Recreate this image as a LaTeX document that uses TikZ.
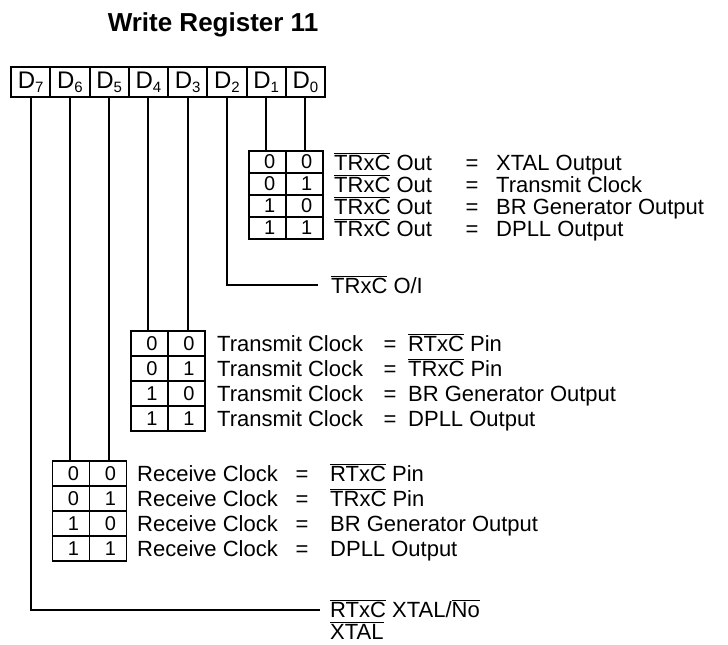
\documentclass[tikz,border=0pt]{standalone}
\usepackage{fontspec}
\setmainfont{Liberation Sans}
\newcommand{\invsig}[1]{$\overline{\mbox{#1}}$}
\newcommand{\dbit}[1]{D\raisebox{-0.3ex}{\fontsize{15}{15}\selectfont #1}}
\tikzset{
  regcell/.style={draw, line width=2pt, minimum width=39.25pt, minimum height=30pt, inner sep=0pt, font=\fontsize{24}{26}\selectfont},
  bitcell/.style={draw, line width=1.8pt, minimum width=37pt, inner sep=0pt, font=\fontsize{20}{22}\selectfont},
  wire/.style={line width=2pt},
  desc/.style={anchor=base west, inner sep=0pt, font=\fontsize{22}{24}\selectfont},
}
\begin{document}
\begin{tikzpicture}[x=1pt, y=-1pt]
  \useasboundingbox (0,0) rectangle (728,645);
  \node[font=\bfseries\fontsize{26}{28}\selectfont] (title) at (213,25) {Write Register 11};
  % register bits
  \foreach \b in {7,...,0}
    \node[regcell] (d\b) at ({11+(7.5-\b)*39.25},82) {\dbit{\b}};

  % D1 D0
  \foreach \hi/\lo [count=\i] in {0/0,0/1,1/0,1/1} {
    \node[bitcell, minimum height=22pt] (txa\i) at (267.25,{151+(\i-0.5)*22}) {\hspace{5pt}\hi};
    \node[bitcell, minimum height=22pt] (txb\i) at (304.25,{151+(\i-0.5)*22}) {\hspace{5pt}\lo};
  }
  \foreach \val [count=\i] in {XTAL Output, Transmit Clock, BR Generator Output, DPLL Output} {
    \node[desc] (txl\i) at (334,{170+(\i-1)*22}) {\invsig{TRxC} Out};
    \node[desc, anchor=base] (txe\i) at (472,{170+(\i-1)*22}) {=};
    \node[desc] (txv\i) at (496,{170+(\i-1)*22}) {\val};
  }
  \draw[wire] (d1.south) -- (d1.south |- txa1.north);
  \draw[wire] (d0.south) -- (d0.south |- txb1.north);

  % D2
  \coordinate (oiend) at (318,285);
  \draw[wire] (d2.south) |- (oiend);
  \node[desc] (oi) at (331,293) {\invsig{TRxC} O/I};

  % D4 D3
  \foreach \hi/\lo [count=\i] in {0/0,0/1,1/0,1/1} {
    \node[bitcell, minimum height=25pt] (tta\i) at (149.5,{331+(\i-0.5)*25}) {\hspace{5pt}\hi};
    \node[bitcell, minimum height=25pt] (ttb\i) at (186.5,{331+(\i-0.5)*25}) {\hspace{5pt}\lo};
  }
  \foreach \val [count=\i] in {{\invsig{RTxC} Pin}, {\invsig{TRxC} Pin}, BR Generator Output, DPLL Output} {
    \node[desc] (ttl\i) at (217,{351+(\i-1)*25}) {Transmit Clock};
    \node[desc, anchor=base] (tte\i) at (390,{351+(\i-1)*25}) {=};
    \node[desc] (ttv\i) at (408,{351+(\i-1)*25}) {\val};
  }
  \draw[wire] (d4.south) -- (d4.south |- tta1.north);
  \draw[wire] (d3.south) -- (d3.south |- ttb1.north);

  % D6 D5
  \foreach \hi/\lo [count=\i] in {0/0,0/1,1/0,1/1} {
    \node[bitcell, minimum height=25pt] (rca\i) at (71,{461+(\i-0.5)*25}) {\hspace{5pt}\hi};
    \node[bitcell, minimum height=25pt] (rcb\i) at (108,{461+(\i-0.5)*25}) {\hspace{5pt}\lo};
  }
  \foreach \val [count=\i] in {{\invsig{RTxC} Pin}, {\invsig{TRxC} Pin}, BR Generator Output, DPLL Output} {
    \node[desc] (rcl\i) at (137,{481+(\i-1)*25}) {Receive Clock};
    \node[desc, anchor=base] (rce\i) at (302,{481+(\i-1)*25}) {=};
    \node[desc] (rcv\i) at (330,{481+(\i-1)*25}) {\val};
  }
  \draw[wire] (d6.south) -- (d6.south |- rca1.north);
  \draw[wire] (d5.south) -- (d5.south |- rcb1.north);

  % D7
  \coordinate (xtend) at (320,610);
  \draw[wire] (d7.south) |- (xtend);
  \node[desc] (xt) at (330,617) {\invsig{RTxC} XTAL/\invsig{No}};
  \node[desc] (xt2) at (330,639) {\invsig{XTAL}};
\end{tikzpicture}
\end{document}
